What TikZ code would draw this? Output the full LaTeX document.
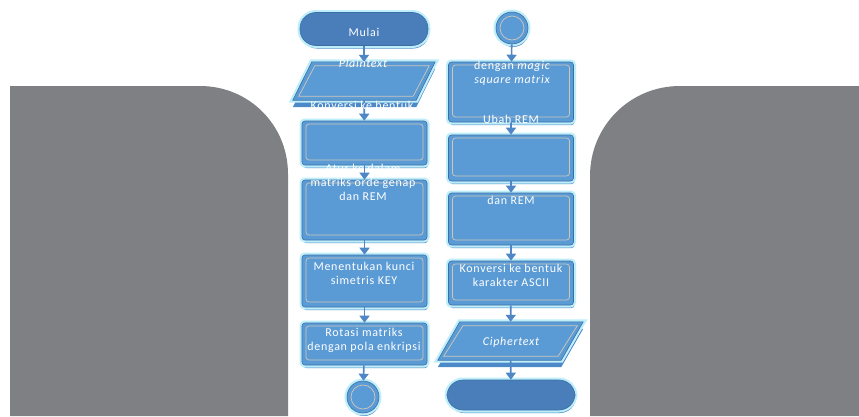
\documentclass[tikz,border=0pt]{standalone}
\usepackage{fontspec}
\setmainfont{Carlito}[LetterSpace=6]
\usetikzlibrary{shapes.geometric,shadows,arrows.meta}
\definecolor{graybg}{HTML}{7F8084}
\definecolor{boxblue}{HTML}{5B9BD5}
\definecolor{termblue}{HTML}{4A7EBB}
\definecolor{edgeblue}{HTML}{3A6EA5}
\definecolor{slab}{HTML}{4C89C8}
\definecolor{glowc}{HTML}{BDEEFA}
\definecolor{innerl}{HTML}{CFC6B8}
\definecolor{arrowc}{HTML}{4F86C6}
\tikzset{
  shp/.style={fill=boxblue, draw=edgeblue, line width=0.6pt, inner sep=0pt,
    drop shadow={shadow xshift=1pt, shadow yshift=-3pt, fill=slab, opacity=1},
    preaction={draw=glowc, line width=5pt}},
  proc/.style={shp, rectangle, rounded corners=3pt, minimum width=125pt,
    path picture={\draw[innerl, line width=0.7pt]
      ([shift={(4pt,-3pt)}]path picture bounding box.north west) rectangle
      ([shift={(-4pt,5pt)}]path picture bounding box.south east);}},
  term/.style={shp, rectangle, rounded corners=16pt, fill=termblue, minimum width=128pt, minimum height=33pt},
  anchorbox/.style={rectangle, inner sep=0pt, minimum height=38pt},
  parashape/.style={fill=boxblue, draw=edgeblue, line width=0.6pt,
    drop shadow={shadow xshift=0pt, shadow yshift=-7pt, fill=slab, opacity=1},
    preaction={draw=glowc, line width=5pt}},
  conn/.style={shp, circle, minimum size=32pt,
    path picture={\draw[innerl, line width=0.7pt] (path picture bounding box.center) circle (12pt);}},
  txt/.style={text=white, font=\fontsize{12}{14}\selectfont, align=center, inner sep=0pt},
  arr/.style={draw=arrowc, line width=1.6pt, -{Triangle[width=10pt,length=7pt]}},
  inner/.style={innerl, line width=0.7pt}
}
\begin{document}
\begin{tikzpicture}[x=1pt,y=-1pt]
\useasboundingbox (0,0) rectangle (859,416);
\fill[white] (0,0) rectangle (859,416);
\fill[graybg] (10,416) -- (10,86) -- (200,86) .. controls (249,86) and (288,125) .. (288,174) -- (288,416) -- cycle;
\fill[graybg] (859,416) -- (590,416) -- (590,176) .. controls (590,126) and (630,86) .. (680,86) -- (859,86) -- cycle;

% partly hidden texts (behind shapes)
\node[txt] (h1) at (364,118) {matriks};
\node[txt] (h2) at (511,133) {berdasarkan KEY};
\node[txt] (h3) at (511,186) {Menggabungkan matriks};
\node[txt] (h4) at (511,51) {Rotasi matriks};

% left column
\node[term] (start) at (364,29) {};
\node[anchorbox, minimum width=142pt] (pin) at (364,81) {};
\draw[parashape] ([xshift=19pt]pin.north west) -- (pin.north east) -- ([xshift=-19pt]pin.south east) -- (pin.south west) -- cycle;
\draw[inner] ([shift={(22pt,-4pt)}]pin.north west) -- ([shift={(-6pt,-4pt)}]pin.north east) -- ([shift={(-22pt,4pt)}]pin.south east) -- ([shift={(6pt,4pt)}]pin.south west) -- cycle;
\node[proc, minimum height=44pt] (p1) at (364.5,143) {};
\node[proc, minimum height=60pt] (p2) at (364.5,210) {};
\node[proc, minimum height=52pt] (p3) at (364.5,281) {};
\node[proc, minimum height=42pt] (p4) at (364.5,344) {};
\node[conn] (c1) at (363,397) {};

% right column
\node[conn] (c2) at (512,28) {};
\node[proc, minimum height=60pt] (q1) at (511,92) {};
\node[proc, minimum height=46pt] (q2) at (511,158) {};
\node[proc, minimum height=52pt] (q3) at (511,219) {};
\node[proc, minimum height=44pt] (q4) at (511,283) {};
\node[anchorbox, minimum width=145pt] (pout) at (510.5,341) {};
\draw[parashape] ([xshift=22pt]pout.north west) -- (pout.north east) -- ([xshift=-22pt]pout.south east) -- (pout.south west) -- cycle;
\draw[inner] ([shift={(25pt,-4pt)}]pout.north west) -- ([shift={(-6pt,-4pt)}]pout.north east) -- ([shift={(-25pt,4pt)}]pout.south east) -- ([shift={(6pt,4pt)}]pout.south west) -- cycle;
\node[term, minimum height=30pt] (stop) at (511,395) {};

% connectors
\draw[arr] (start) -- (pin);
\draw[arr] (pin) -- (p1);
\draw[arr] (p1) -- (p2);
\draw[arr] (p2) -- (p3);
\draw[arr] (p3) -- (p4);
\draw[arr] (p4) -- (c1);
\draw[arr] (c2) -- (q1);
\draw[arr] (q1) -- (q2);
\draw[arr] (q2) -- (q3);
\draw[arr] (q3) -- (q4);
\draw[arr] (q4) -- (pout);
\draw[arr] (pout) -- (stop);

% texts
\node[txt] (t0) at (364,32) {Mulai};
\node[txt] (t1) at (363,63) {\itshape Plaintext};
\node[txt] (t2) at (362,105) {Konversi ke bentuk};
\node[txt] (t3) at (363,182) {Atur ke dalam\\matriks orde genap\\dan REM};
\node[txt] (t4) at (364,273) {Menentukan kunci\\simetris KEY};
\node[txt] (t5) at (364,340) {Rotasi matriks\\dengan pola enkripsi};
\node[txt] (t6) at (512,73) {dengan \itshape magic\\\itshape square matrix};
\node[txt] (t7) at (511,119) {Ubah REM};
\node[txt] (t8) at (511,200) {dan REM};
\node[txt] (t9) at (511,275) {Konversi ke bentuk\\karakter ASCII};
\node[txt] (t10) at (511,342) {\itshape Ciphertext};
\end{tikzpicture}
\end{document}
